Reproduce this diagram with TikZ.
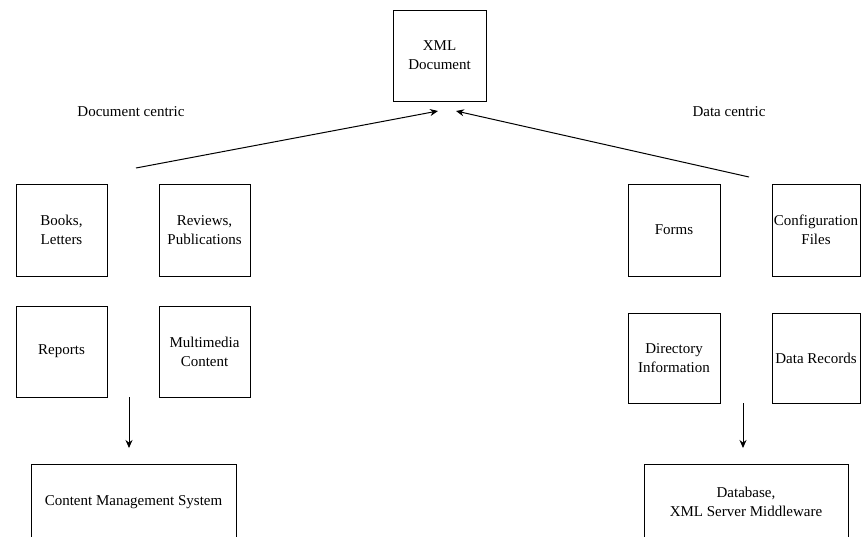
\documentclass[tikz,border=0pt]{standalone}
\usepackage{fontspec}
\setmainfont{Liberation Serif}
\usetikzlibrary{arrows.meta}
\tikzset{
  box/.style={draw=black, line width=1pt, fill=white, align=center, inner sep=0pt,
    font=\fontsize{15}{19}\selectfont},
  lbl/.style={inner sep=0pt, font=\fontsize{15}{19}\selectfont},
  arr/.style={draw=black, line width=1pt, -{Stealth[length=8pt,width=7pt]}}
}
\begin{document}
\begin{tikzpicture}[x=1pt,y=-1pt]
\useasboundingbox (0,0) rectangle (861,536);
\clip (0,0) rectangle (861,536);
\fill[white] (0,0) rectangle (861,536);

\node[box, minimum width=93pt, minimum height=91pt] (xml) at (439.5,55.5) {XML\\Document};

\node[lbl] (doc) at (131,112) {Document centric};
\node[lbl] (dat) at (729,112) {Data centric};

\node[box, minimum width=91pt, minimum height=92pt] (books) at (61.5,230) {Books,\\Letters};
\node[box, minimum width=91pt, minimum height=92pt] (reviews) at (204.5,230) {Reviews,\\Publications};
\node[box, minimum width=91pt, minimum height=91pt] (reports) at (61.5,351.5) {Reports};
\node[box, minimum width=91pt, minimum height=91pt] (multi) at (204.5,351.5) {Multimedia\\Content};

\node[box, minimum width=92pt, minimum height=92pt] (forms) at (674,230) {Forms};
\node[box, minimum width=88pt, minimum height=92pt] (config) at (816,230) {Configuration\\Files};
\node[box, minimum width=92pt, minimum height=90pt] (dir) at (674,358) {Directory\\Information};
\node[box, minimum width=88pt, minimum height=90pt] (records) at (816,358) {Data Records};

\node[box, minimum width=205pt, minimum height=76pt] (cms) at (133.5,502) {Content Management System};
\node[box, minimum width=204pt, minimum height=76pt] (db) at (746,502) {Database,\\XML Server Middleware};

\coordinate (ls) at (136,168);
\coordinate (le) at (438,111);
\coordinate (rs) at (749,177);
\coordinate (re) at (456,111);
\coordinate (lds) at (129,397);
\coordinate (lde) at (129,448);
\coordinate (rds) at (743,403);
\coordinate (rde) at (743,448);

\draw[arr] (ls) -- (le);
\draw[arr] (rs) -- (re);
\draw[arr] (lds) -- (lde);
\draw[arr] (rds) -- (rde);
\end{tikzpicture}
\end{document}
